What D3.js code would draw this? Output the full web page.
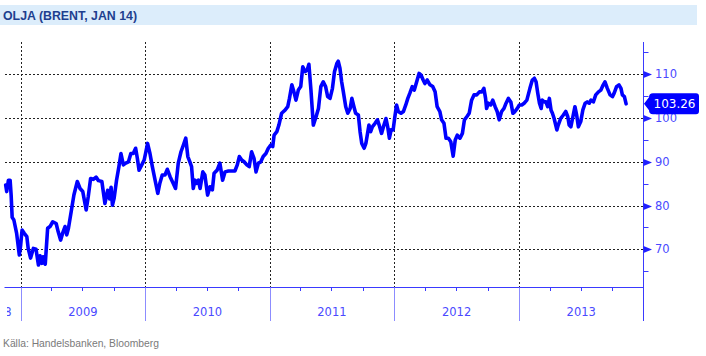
<!DOCTYPE html>
<html><head><meta charset="utf-8">
<script src="https://cdn.jsdelivr.net/npm/d3@7"></script>
<style>body{margin:0;background:#fff}svg{display:block}</style>
</head><body><svg id="c" width="706" height="356"></svg>
<script>
const titleText = "OLJA (BRENT, JAN 14)";
const sourceText = "Källa: Handelsbanken, Bloomberg";
const yTicks = [70, 80, 90, 100, 110];
const yMinorTicks = [65, 75, 85, 95, 105, 115];
const years = [2008, 2009, 2010, 2011, 2012, 2013];
const lastValueLabel = "103.26";

const dates = [
"2008-11-18","2008-11-21","2008-11-26","2008-12-01","2008-12-04","2008-12-07","2008-12-12","2008-12-20","2008-12-28",
"2009-01-01","2009-01-05","2009-01-11","2009-01-19","2009-01-23","2009-01-30","2009-02-07","2009-02-15","2009-02-22","2009-02-27",
"2009-03-04","2009-03-08","2009-03-14","2009-03-21","2009-03-28","2009-04-05","2009-04-15","2009-04-21","2009-04-28","2009-05-04",
"2009-05-11","2009-05-16","2009-05-21","2009-05-29","2009-06-06","2009-06-16","2009-06-24","2009-07-02","2009-07-12","2009-07-18",
"2009-07-25","2009-08-02","2009-08-10","2009-08-17","2009-08-27","2009-09-05","2009-09-13","2009-09-19","2009-09-23","2009-09-27",
"2009-10-02","2009-10-09","2009-10-16","2009-10-22","2009-10-29","2009-11-05","2009-11-13","2009-11-20","2009-11-27","2009-12-04",
"2009-12-09","2009-12-14","2009-12-22","2009-12-29",
"2010-01-02","2010-01-08","2010-01-15","2010-01-22","2010-01-30","2010-02-07","2010-02-13","2010-02-20","2010-02-28","2010-03-07",
"2010-03-15","2010-03-24","2010-03-31","2010-04-08","2010-04-16","2010-04-23","2010-04-30","2010-05-06","2010-05-12","2010-05-17",
"2010-05-22","2010-05-27","2010-06-01","2010-06-06","2010-06-11","2010-06-19","2010-06-25","2010-07-03","2010-07-10","2010-07-17",
"2010-07-22","2010-07-31","2010-08-08","2010-08-16","2010-08-23","2010-09-02","2010-09-12","2010-09-21","2010-09-28","2010-10-04",
"2010-10-11","2010-10-18","2010-10-26","2010-11-02","2010-11-09","2010-11-16","2010-11-22","2010-11-29","2010-12-06","2010-12-13",
"2010-12-21","2010-12-28",
"2011-01-04","2011-01-10","2011-01-14","2011-01-22","2011-01-28","2011-02-05","2011-02-15","2011-02-23","2011-02-28","2011-03-07",
"2011-03-13","2011-03-19","2011-03-26","2011-04-02","2011-04-08","2011-04-15","2011-04-21","2011-04-26","2011-05-02","2011-05-09",
"2011-05-17","2011-05-24","2011-05-31","2011-06-07","2011-06-14","2011-06-20","2011-06-27","2011-07-04","2011-07-10","2011-07-17",
"2011-07-21","2011-07-26","2011-07-31","2011-08-05","2011-08-12","2011-08-18","2011-08-25","2011-08-30","2011-09-05","2011-09-10",
"2011-09-18","2011-09-23","2011-09-28","2011-10-05","2011-10-10","2011-10-15","2011-10-19","2011-10-24","2011-10-29","2011-11-06",
"2011-11-13","2011-11-18","2011-11-25","2011-12-02","2011-12-08","2011-12-13","2011-12-18","2011-12-23","2011-12-29",
"2012-01-03","2012-01-08","2012-01-13","2012-01-21","2012-01-28","2012-02-04","2012-02-10","2012-02-16","2012-02-23","2012-02-29",
"2012-03-07","2012-03-14","2012-03-20","2012-03-26","2012-03-31","2012-04-07","2012-04-15","2012-04-23","2012-04-30","2012-05-06",
"2012-05-14","2012-05-19","2012-05-26","2012-06-01","2012-06-08","2012-06-15","2012-06-22","2012-06-28","2012-07-04","2012-07-12",
"2012-07-19","2012-07-25","2012-08-01","2012-08-08","2012-08-15","2012-08-22","2012-08-30","2012-09-07","2012-09-14","2012-09-20",
"2012-09-25","2012-09-28","2012-10-03","2012-10-10","2012-10-16","2012-10-23","2012-10-29","2012-11-04","2012-11-11","2012-11-18",
"2012-11-24","2012-12-01","2012-12-08","2012-12-14","2012-12-20","2012-12-27",
"2013-01-02","2013-01-09","2013-01-16","2013-01-24","2013-02-02","2013-02-09","2013-02-15","2013-02-20","2013-02-25","2013-03-02",
"2013-03-07","2013-03-10","2013-03-16","2013-03-21","2013-03-26","2013-03-31","2013-04-05","2013-04-09","2013-04-14","2013-04-22",
"2013-04-26","2013-05-03","2013-05-11","2013-05-18","2013-05-24","2013-05-28","2013-06-02","2013-06-09","2013-06-14","2013-06-19",
"2013-06-24","2013-07-01","2013-07-07","2013-07-14","2013-07-20","2013-07-26","2013-07-31","2013-08-07","2013-08-14","2013-08-22",
"2013-08-29","2013-09-05","2013-09-10","2013-09-17","2013-09-25","2013-10-02","2013-10-07","2013-10-14","2013-10-21","2013-10-27",
"2013-10-31","2013-11-06","2013-11-11"
];
const prices = [
84.7,83.2,85.8,85.8,82.4,77.3,76.7,73.7,68.7,
71.0,74.4,73.7,72.9,70.2,68.0,70.2,70.0,66.4,68.5,
66.8,68.3,66.6,74.8,75.2,76.3,75.9,74.0,72.1,73.7,
75.2,73.3,74.8,78.6,82.4,85.5,83.9,83.2,79.0,82.0,
86.2,86.0,86.5,85.7,85.5,80.5,83.5,81.5,84.2,80.1,
81.7,85.8,88.9,91.9,89.3,89.7,90.0,91.9,91.9,93.1,
90.8,88.1,89.3,90.4,
91.9,94.2,91.9,88.9,85.8,82.8,85.1,87.0,87.0,88.3,
86.6,85.1,83.9,89.7,92.3,93.8,95.4,91.2,90.0,88.9,
83.9,85.8,85.1,85.8,83.9,87.7,87.0,82.4,84.3,83.6,
87.4,88.1,89.7,85.8,87.7,87.9,87.9,87.9,89.3,91.2,
90.4,90.0,89.3,88.9,92.3,90.8,87.7,89.7,90.0,91.2,
91.9,93.1,
93.8,93.5,96.1,96.9,98.4,101.1,101.8,102.6,104.5,107.6,
106.0,104.1,106.4,107.2,111.7,110.6,111.0,112.3,106.4,98.4,
100.3,102.2,107.2,108.3,107.2,104.9,104.5,106.8,110.6,112.5,
113.0,111.4,108.3,106.0,102.6,101.1,102.2,104.5,102.6,101.1,
100.7,96.9,94.2,93.1,94.2,96.5,98.4,96.9,98.0,98.8,
99.6,98.4,96.5,98.4,99.9,98.0,95.4,97.3,97.3,
100.3,103.0,101.5,101.1,101.5,103.0,104.5,105.7,107.2,106.4,
108.3,110.2,109.8,108.7,107.9,108.7,107.6,107.2,106.0,102.6,
101.5,99.6,98.8,95.4,95.4,94.6,91.3,95.0,96.1,95.4,
96.5,99.6,100.3,101.1,104.1,105.3,105.3,106.0,106.0,106.8,
104.5,102.2,103.4,103.0,104.1,102.6,101.5,99.6,101.5,102.2,
103.4,104.5,103.7,101.1,101.5,102.2,
103.0,103.0,103.4,104.1,106.8,108.7,109.1,108.3,105.7,103.4,
102.2,104.1,103.7,103.7,102.6,104.5,101.8,101.1,99.9,97.3,
98.4,99.9,100.7,101.5,100.3,98.4,98.0,100.7,102.6,100.7,
98.0,99.2,101.8,103.4,103.7,103.4,104.1,103.7,105.3,106.0,
106.4,107.6,108.3,106.8,105.3,104.9,105.7,107.2,107.6,106.8,
105.3,104.9,103.26
];

const parse = d3.utcParse("%Y-%m-%d");
const data = dates.map((d, i) => ({date: parse(d), value: prices[i]}));

const svg = d3.select("#c");
const axisColor = "#3a3aff";
const labelColor = "#4a4aff";
const sepColor = "#8c8cff";

const x = d3.scaleUtc().domain([parse("2008-11-16"), parse("2014-01-01")]).range([5, 643.5]);
const y = d3.scaleLinear().domain([61.2, 117.3]).range([287.8, 42.4]);
const px = v => Math.round(v) + 0.5;

const xAxisY = 287.5, plotTop = 42, plotLeft = 5, axisX = 643.5, sepBottom = 321;

// title bar
svg.append("rect").attr("x", 0).attr("y", 5).attr("width", 697).attr("height", 20).attr("fill", "#dcedfb");
svg.append("text").attr("x", 3).attr("y", 20).text(titleText)
  .attr("font-family", "Liberation Sans, Arial, sans-serif").attr("font-weight", "bold").attr("font-size", 12.5)
  .attr("fill", "#1e3f8f").attr("textLength", 134).attr("lengthAdjust", "spacingAndGlyphs");

// gridlines
const grid = svg.append("g").attr("stroke", "#222").attr("stroke-width", 1).attr("stroke-dasharray", "2,2");
yTicks.forEach(t => grid.append("line").attr("x1", plotLeft).attr("x2", axisX).attr("y1", px(y(t))).attr("y2", px(y(t))));
const yearStarts = years.slice(1).map(yr => new Date(Date.UTC(yr, 0, 1)));
yearStarts.forEach(d => grid.append("line").attr("x1", px(x(d))).attr("x2", px(x(d))).attr("y1", plotTop).attr("y2", xAxisY));

// x axis
const xa = svg.append("g");
xa.append("line").attr("x1", 4.5).attr("x2", axisX).attr("y1", xAxisY).attr("y2", xAxisY).attr("stroke", axisColor);
const quarterTicks = [];
years.forEach(yr => [3, 6, 9].forEach(m => { const d = new Date(Date.UTC(yr, m, 1)); if (x(d) > plotLeft) quarterTicks.push(d); }));
quarterTicks.forEach(d => xa.append("line").attr("x1", px(x(d))).attr("x2", px(x(d))).attr("y1", xAxisY).attr("y2", xAxisY + 3.5).attr("stroke", axisColor));
yearStarts.forEach(d => xa.append("line").attr("x1", px(x(d))).attr("x2", px(x(d))).attr("y1", xAxisY).attr("y2", sepBottom).attr("stroke", sepColor));
svg.append("clipPath").attr("id", "lc").append("rect").attr("x", 7).attr("y", 290).attr("width", 700).attr("height", 40);
const yl = svg.append("g").attr("clip-path", "url(#lc)");
years.forEach(yr => {
  const a = x(new Date(Date.UTC(yr, 0, 1))), b = x(new Date(Date.UTC(yr + 1, 0, 1)));
  const t = yl.append("text").attr("y", 316).text(String(yr))
    .attr("font-family", "DejaVu Sans, Verdana, sans-serif").attr("font-size", 11.5).attr("fill", labelColor);
  if (a < plotLeft) t.attr("x", b - 9).attr("text-anchor", "end");
  else t.attr("x", (a + b) / 2).attr("text-anchor", "middle");
});

// y axis
const ya = svg.append("g");
ya.append("line").attr("x1", axisX).attr("x2", axisX).attr("y1", plotTop).attr("y2", sepBottom).attr("stroke", axisColor);
yMinorTicks.forEach(t => ya.append("line").attr("x1", axisX).attr("x2", axisX + 5).attr("y1", px(y(t))).attr("y2", px(y(t))).attr("stroke", axisColor));
yTicks.forEach(t => {
  const yy = px(y(t)) - 0.5;
  ya.append("path").attr("d", `M${axisX},${yy - 3}L${axisX + 8.5},${yy + 0.5}L${axisX},${yy + 4}Z`).attr("fill", "#2020ff");
  ya.append("text").attr("x", 655).attr("y", yy).attr("dy", "0.36em").text(t)
    .attr("font-family", "DejaVu Sans, Verdana, sans-serif").attr("font-size", 11.5).attr("fill", labelColor);
});

// line
svg.append("path").datum(data)
  .attr("d", d3.line().x(d => x(d.date)).y(d => y(d.value)))
  .attr("fill", "none").attr("stroke", "#0000ff").attr("stroke-width", 3.6)
  .attr("stroke-linejoin", "round").attr("stroke-linecap", "round");

// last value label
const last = data[data.length - 1];
const cy = y(last.value), bTop = cy - 10.5, bBot = cy + 10.5;
svg.append("path").attr("d", `M644,${cy}L649,${bTop + 4}Q649,${bTop} 653,${bTop}L696,${bTop}Q699,${bTop} 699,${bTop + 3}L699,${bBot - 3}Q699,${bBot} 696,${bBot}L653,${bBot}Q649,${bBot} 649,${bBot - 4}Z`)
  .attr("fill", "#0000ff");
svg.append("text").attr("x", 674.5).attr("y", cy).attr("dy", "0.36em").attr("text-anchor", "middle").text(lastValueLabel)
  .attr("font-family", "DejaVu Sans, Verdana, sans-serif").attr("font-size", 12).attr("fill", "#fff");

// source
svg.append("text").attr("x", 3).attr("y", 347).text(sourceText)
  .attr("font-family", "Liberation Sans, Arial, sans-serif").attr("font-size", 11).attr("fill", "#7a7a7a")
  .attr("textLength", 156).attr("lengthAdjust", "spacingAndGlyphs");
</script></body></html>
